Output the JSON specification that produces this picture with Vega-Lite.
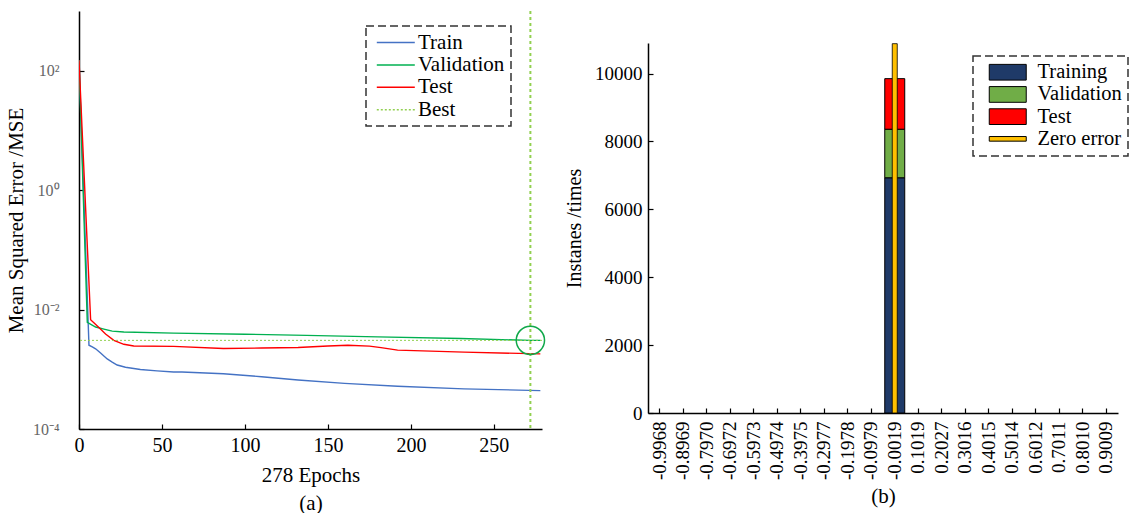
{
  "$schema": "https://vega.github.io/schema/vega-lite/v6.json",
  "padding": {"left": 5, "top": 10, "right": 0, "bottom": 0},
  "background": "white",
  "config": {
    "font": "Liberation Serif",
    "view": {"stroke": null},
    "title": {"font": "Liberation Serif"},
    "axis": {
      "domainColor": "#000", "domainWidth": 1.5,
      "tickColor": "#000", "tickWidth": 1.2, "tickSize": -5,
      "labelPadding": 11, "labelColor": "#000", "labelFontSize": 20,
      "labelFont": "Liberation Serif", "titleFont": "Liberation Serif",
      "titleFontSize": 21, "titleFontWeight": "normal", "titleColor": "#000",
      "grid": false
    },
    "legend": {
      "labelFont": "Liberation Serif", "labelFontSize": 20, "labelColor": "#000",
      "labelLimit": 300
    }
  },
  "resolve": {"scale": {"color": "independent"}, "legend": {"color": "independent"}},
  "spacing": 16,
  "datasets": {
    "mse": [
      {"epoch": 0, "mse": 150, "series": "Train"},
      {"epoch": 6, "mse": 0.00253, "series": "Train"},
      {"epoch": 8, "mse": 0.00237, "series": "Train"},
      {"epoch": 10, "mse": 0.0022, "series": "Train"},
      {"epoch": 13, "mse": 0.00187, "series": "Train"},
      {"epoch": 17, "mse": 0.00149, "series": "Train"},
      {"epoch": 20, "mse": 0.00132, "series": "Train"},
      {"epoch": 23, "mse": 0.00118, "series": "Train"},
      {"epoch": 28, "mse": 0.00108, "series": "Train"},
      {"epoch": 37, "mse": 0.00099, "series": "Train"},
      {"epoch": 47, "mse": 0.00094, "series": "Train"},
      {"epoch": 57, "mse": 0.0009, "series": "Train"},
      {"epoch": 62, "mse": 0.0009, "series": "Train"},
      {"epoch": 87, "mse": 0.00084, "series": "Train"},
      {"epoch": 110, "mse": 0.00075, "series": "Train"},
      {"epoch": 132, "mse": 0.00066, "series": "Train"},
      {"epoch": 160, "mse": 0.00058, "series": "Train"},
      {"epoch": 192, "mse": 0.00052, "series": "Train"},
      {"epoch": 232, "mse": 0.00047, "series": "Train"},
      {"epoch": 278, "mse": 0.00044, "series": "Train"},
      {"epoch": 0, "mse": 150, "series": "Validation"},
      {"epoch": 5, "mse": 0.0061, "series": "Validation"},
      {"epoch": 10, "mse": 0.0051, "series": "Validation"},
      {"epoch": 15, "mse": 0.0047, "series": "Validation"},
      {"epoch": 20, "mse": 0.00436, "series": "Validation"},
      {"epoch": 27, "mse": 0.0042, "series": "Validation"},
      {"epoch": 57, "mse": 0.00403, "series": "Validation"},
      {"epoch": 100, "mse": 0.00387, "series": "Validation"},
      {"epoch": 137, "mse": 0.0037, "series": "Validation"},
      {"epoch": 180, "mse": 0.00349, "series": "Validation"},
      {"epoch": 230, "mse": 0.00327, "series": "Validation"},
      {"epoch": 272, "mse": 0.00305, "series": "Validation"},
      {"epoch": 278, "mse": 0.00305, "series": "Validation"},
      {"epoch": 0, "mse": 150, "series": "Test"},
      {"epoch": 7, "mse": 0.00675, "series": "Test"},
      {"epoch": 12, "mse": 0.005, "series": "Test"},
      {"epoch": 16, "mse": 0.0039, "series": "Test"},
      {"epoch": 21, "mse": 0.00305, "series": "Test"},
      {"epoch": 27, "mse": 0.00262, "series": "Test"},
      {"epoch": 33, "mse": 0.00245, "series": "Test"},
      {"epoch": 57, "mse": 0.00242, "series": "Test"},
      {"epoch": 87, "mse": 0.00223, "series": "Test"},
      {"epoch": 110, "mse": 0.00227, "series": "Test"},
      {"epoch": 132, "mse": 0.00231, "series": "Test"},
      {"epoch": 150, "mse": 0.00245, "series": "Test"},
      {"epoch": 162, "mse": 0.00253, "series": "Test"},
      {"epoch": 175, "mse": 0.00244, "series": "Test"},
      {"epoch": 182, "mse": 0.00231, "series": "Test"},
      {"epoch": 192, "mse": 0.00209, "series": "Test"},
      {"epoch": 232, "mse": 0.00194, "series": "Test"},
      {"epoch": 278, "mse": 0.00181, "series": "Test"}
    ],
    "best": [
      {"epoch": 272, "mse": 0.00305, "series": "Best"}
    ],
    "hist": [
      {"bin": "-0.0019", "set": "Training", "count": 6930, "k": 0},
      {"bin": "-0.0019", "set": "Validation", "count": 1430, "k": 1},
      {"bin": "-0.0019", "set": "Test", "count": 1490, "k": 2}
    ],
    "zero": [
      {"bin": "-0.0019", "set": "Zero error", "count": 10880}
    ]
  },
  "hconcat": [
    {
      "width": 463,
      "height": 418,
      "layer": [
        {
          "data": {"name": "mse"},
          "mark": {"type": "line", "strokeWidth": 1.4, "clip": true},
          "encoding": {
            "x": {"field": "epoch", "type": "quantitative",
              "scale": {"domain": [0, 279], "nice": false, "zero": false},
              "axis": {"values": [0, 50, 100, 150, 200, 250], "title": ["278 Epochs", "(a)"],
                "titleLineHeight": 28, "titlePadding": 9, "labelFlush": false}},
            "y": {"field": "mse", "type": "quantitative",
              "scale": {"type": "log", "domain": [0.0001, 1000], "nice": false},
              "axis": {"values": [0.0001, 0.01, 1, 100], "title": "Mean Squared Error /MSE",
                "labelExpr": "datum.value >= 50 ? '10²' : datum.value >= 0.5 ? '10⁰' : datum.value >= 0.005 ? '10⁻²' : '10⁻⁴'",
                "labelColor": "#666", "labelFontSize": 16, "labelPadding": 25, "titlePadding": 6}},
            "color": {"field": "series", "type": "nominal",
              "scale": {"domain": ["Train", "Validation", "Test", "Best"],
                "range": ["#4472c4", "#00b050", "#ff0000", "#92d050"]},
              "legend": {
                "title": null, "orient": "none", "legendX": 287, "legendY": 15,
                "symbolType": "M-0.6,0H3.4", "symbolSize": 361, "symbolStrokeWidth": 1.5,
                "padding": 6, "rowPadding": 0.4, "labelOffset": 25, "labelFontSize": 21,
                "strokeColor": "#333",
                "encode": {
                  "legend": {"update": {"strokeDash": {"value": [8, 4]}, "strokeWidth": {"value": 1.5}}},
                  "symbols": {"update": {"strokeDash": {"signal": "datum.value === 'Best' ? [2, 2] : [100, 0]"}}}
                }
              }}
          }
        },
        {
          "data": {"name": "best"},
          "mark": {"type": "rule", "strokeDash": [2, 2], "strokeWidth": 1},
          "encoding": {
            "y": {"field": "mse", "type": "quantitative"},
            "color": {"field": "series", "type": "nominal"}
          }
        },
        {
          "data": {"name": "best"},
          "mark": {"type": "rule", "strokeDash": [3, 3], "strokeWidth": 2},
          "encoding": {
            "x": {"field": "epoch", "type": "quantitative"},
            "color": {"field": "series", "type": "nominal"}
          }
        },
        {
          "data": {"name": "best"},
          "mark": {"type": "point", "shape": "circle", "filled": false, "size": 800, "stroke": "#10a84a", "strokeWidth": 1.5, "opacity": 1},
          "encoding": {
            "x": {"field": "epoch", "type": "quantitative"},
            "y": {"field": "mse", "type": "quantitative"}
          }
        }
      ]
    },
    {
      "spacing": 0,
      "vconcat": [
        {
          "width": 470,
          "height": 32,
          "data": {"values": [{"blank": ""}]},
          "mark": {"type": "text", "opacity": 0},
          "encoding": {"text": {"field": "blank"}}
        },
        {
          "width": 470,
          "height": 370,
          "layer": [
            {
              "data": {"name": "hist"},
              "mark": {"type": "bar", "stroke": "#000", "strokeWidth": 1},
              "encoding": {
                "x": {"field": "bin", "type": "nominal", "sort": null,
                  "scale": {"domain": ["-0.9968", "-0.8969", "-0.7970", "-0.6972", "-0.5973", "-0.4974", "-0.3975", "-0.2977", "-0.1978", "-0.0979", "-0.0019", "0.1019", "0.2027", "0.3016", "0.4015", "0.5014", "0.6012", "0.7011", "0.8010", "0.9009"],
                    "paddingInner": 0.15, "paddingOuter": 0.075},
                  "axis": {"title": "(b)", "labelAngle": 270, "labelFontSize": 19, "labelOverlap": false,
                    "labelPadding": 13, "titlePadding": 6, "titleFontSize": 21}},
                "y": {"field": "count", "type": "quantitative", "stack": "zero",
                  "scale": {"domain": [0, 10900], "nice": false},
                  "axis": {"values": [0, 2000, 4000, 6000, 8000, 10000], "title": "Instanes /times",
                    "format": "d", "labelFontSize": 19, "titleFontSize": 20, "titlePadding": 10}},
                "order": {"field": "k", "type": "quantitative"},
                "color": {"field": "set", "type": "nominal",
                  "scale": {"domain": ["Training", "Validation", "Test", "Zero error"],
                    "range": ["#1f3a68", "#70ad47", "#ff0000", "#ffc000"]},
                  "legend": {
                    "title": null, "orient": "none", "legendX": 325, "legendY": 45,
                    "symbolType": "M0,-0.85H4V0.85H0Z", "symbolSize": 342,
                    "symbolStrokeColor": "#000", "symbolStrokeWidth": 1,
                    "padding": 6, "rowPadding": 1.2, "labelOffset": 38, "labelFontSize": 20.5,
                    "strokeColor": "#333",
                    "encode": {
                      "legend": {"update": {"strokeDash": {"value": [8, 4]}, "strokeWidth": {"value": 1.5}}},
                      "symbols": {"update": {"shape": {"signal": "datum.value === 'Zero error' ? 'M0,-0.25H4V0.25H0Z' : 'M0,-0.85H4V0.85H0Z'"}}}
                    }
                  }}
              }
            },
            {
              "data": {"name": "zero"},
              "mark": {"type": "bar", "width": 5, "stroke": "#000", "strokeWidth": 0.8},
              "encoding": {
                "x": {"field": "bin", "type": "nominal", "sort": null},
                "y": {"field": "count", "type": "quantitative"},
                "color": {"field": "set", "type": "nominal"}
              }
            }
          ]
        }
      ]
    }
  ]
}
